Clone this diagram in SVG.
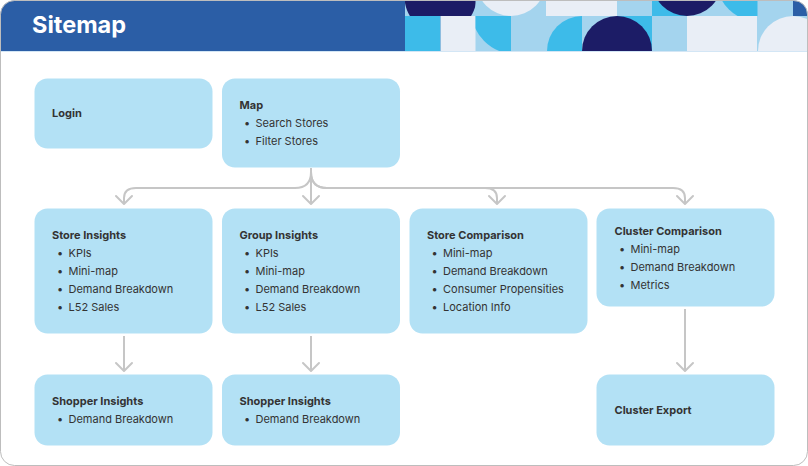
<svg xmlns="http://www.w3.org/2000/svg" width="808" height="466" viewBox="0 0 808 466">
<defs>
<clipPath id="card"><rect x="0.5" y="0.5" width="807" height="465" rx="14"/></clipPath>
<clipPath id="t01"><rect x="405" y="0" width="70.5" height="16"/></clipPath>
<clipPath id="t23"><rect x="475.5" y="0" width="70.5" height="16"/></clipPath>
<clipPath id="t78"><rect x="652" y="0" width="70.5" height="16"/></clipPath>
<clipPath id="t9"><rect x="722" y="0" width="35.5" height="16"/></clipPath>
<clipPath id="b2"><rect x="475.5" y="16" width="35.5" height="35"/></clipPath>
<clipPath id="b4"><rect x="546" y="16" width="36" height="35"/></clipPath>
<clipPath id="b56"><rect x="582" y="16" width="70" height="35"/></clipPath>
<clipPath id="b10"><rect x="757" y="16" width="51" height="35"/></clipPath>
<marker id="arr" markerUnits="userSpaceOnUse" markerWidth="20" markerHeight="20" refX="0" refY="0" viewBox="-10 -10 20 20" orient="auto" overflow="visible">
<path d="M-8,-8 L0,0 L-8,8" fill="none" stroke="#C6C6C6" stroke-width="2" stroke-linecap="round" stroke-linejoin="round"/>
</marker>
</defs>
<style>
.node{fill:#B3E1F5}
.t{font-family:Inter,"Open Sans","DejaVu Sans",sans-serif;font-size:11px;fill:#333}
.h{font-weight:700}
.c{fill:none;stroke:#C6C6C6;stroke-width:2;marker-end:url(#arr)}
.nv{fill:#1C1C66}.cy{fill:#3DBBE9}.lb{fill:#A4D4EE}.lg{fill:#E9EEF6}
</style>
<rect x="0.5" y="0.5" width="807" height="465" rx="14" fill="#fff"/>
<g id="header" clip-path="url(#card)">
<rect x="0" y="0" width="808" height="51" fill="#2B5EA6"/>
<rect x="0" y="51" width="808" height="1" fill="#D3E6F5"/>
<!-- top row -->
<rect class="lb" x="405" y="0" width="388" height="16"/>
<circle class="nv" cx="440.5" cy="-3" r="36" clip-path="url(#t01)"/>
<circle class="lg" cx="511" cy="-19" r="35" clip-path="url(#t23)"/>
<rect class="lg" x="546" y="0" width="71" height="16"/>
<rect class="cy" x="652" y="0" width="35" height="16"/>
<circle class="nv" cx="687" cy="-19" r="35" clip-path="url(#t78)"/>
<circle class="cy" cx="757" cy="-19" r="40" clip-path="url(#t9)"/>
<!-- bottom row -->
<rect class="cy" x="405" y="16" width="35.5" height="35"/>
<rect class="lg" x="440.5" y="16" width="35.5" height="35"/>
<rect class="lb" x="475.5" y="16" width="332.5" height="35"/>
<circle class="cy" cx="517" cy="8" r="46.5" clip-path="url(#b2)"/>
<circle class="cy" cx="582" cy="51" r="35" clip-path="url(#b4)"/>
<rect class="cy" x="617" y="16" width="35" height="35"/>
<circle class="nv" cx="617" cy="51" r="35" clip-path="url(#b56)"/>
<rect class="lg" x="687" y="16" width="70" height="35"/>
<circle class="lg" cx="793" cy="51" r="35" clip-path="url(#b10)"/>
<text x="32" y="33" font-family="Inter,'Open Sans',sans-serif" font-size="23.5" font-weight="700" fill="#fff">Sitemap</text>
</g>
<rect x="0.5" y="0.5" width="807" height="465" rx="14" fill="none" stroke="#BDBDBD"/>
<g id="connectors">
<path class="c" d="M311,168 V204"/>
<path class="c" d="M311,172 Q311,188 295,188 H136 Q124,188 124,198 V204"/>
<path class="c" d="M311,172 Q311,188 327,188 H485 Q497,188 497,198 V204"/>
<path class="c" d="M311,172 Q311,188 327,188 H673 Q685,188 685,198 V204"/>
<path class="c" d="M124,336 V371"/>
<path class="c" d="M311,336 V371"/>
<path class="c" d="M685,309 V371"/>
</g>
<g id="login">
<rect class="node" x="34.5" y="78.5" width="178" height="70" rx="13"/>
<text class="t h" x="52" y="117">Login</text>
</g>
<g id="map">
<rect class="node" x="222" y="78.5" width="178" height="89" rx="13"/>
<text class="t h" x="239.5" y="108.5">Map</text>
<text class="t" x="244" y="126.5">•</text><text class="t" x="255.5" y="126.5">Search Stores</text>
<text class="t" x="244" y="144.5">•</text><text class="t" x="255.5" y="144.5">Filter Stores</text>
</g>
<g id="store-insights">
<rect class="node" x="34.5" y="208.5" width="178" height="125" rx="13"/>
<text class="t h" x="52" y="239">Store Insights</text>
<text class="t" x="57" y="257">•</text><text class="t" x="68.5" y="257">KPIs</text>
<text class="t" x="57" y="275">•</text><text class="t" x="68.5" y="275">Mini-map</text>
<text class="t" x="57" y="293">•</text><text class="t" x="68.5" y="293">Demand Breakdown</text>
<text class="t" x="57" y="311">•</text><text class="t" x="68.5" y="311">L52 Sales</text>
</g>
<g id="group-insights">
<rect class="node" x="222" y="208.5" width="178" height="125" rx="13"/>
<text class="t h" x="239.5" y="239">Group Insights</text>
<text class="t" x="244" y="257">•</text><text class="t" x="255.5" y="257">KPIs</text>
<text class="t" x="244" y="275">•</text><text class="t" x="255.5" y="275">Mini-map</text>
<text class="t" x="244" y="293">•</text><text class="t" x="255.5" y="293">Demand Breakdown</text>
<text class="t" x="244" y="311">•</text><text class="t" x="255.5" y="311">L52 Sales</text>
</g>
<g id="store-comparison">
<rect class="node" x="409.5" y="208.5" width="178" height="125" rx="13"/>
<text class="t h" x="427" y="239">Store Comparison</text>
<text class="t" x="431.5" y="257">•</text><text class="t" x="443" y="257">Mini-map</text>
<text class="t" x="431.5" y="275">•</text><text class="t" x="443" y="275">Demand Breakdown</text>
<text class="t" x="431.5" y="293">•</text><text class="t" x="443" y="293">Consumer Propensities</text>
<text class="t" x="431.5" y="311">•</text><text class="t" x="443" y="311">Location Info</text>
</g>
<g id="cluster-comparison">
<rect class="node" x="596.5" y="208.5" width="178" height="98" rx="13"/>
<text class="t h" x="614.5" y="234.5">Cluster Comparison</text>
<text class="t" x="619" y="252.5">•</text><text class="t" x="630.5" y="252.5">Mini-map</text>
<text class="t" x="619" y="270.5">•</text><text class="t" x="630.5" y="270.5">Demand Breakdown</text>
<text class="t" x="619" y="288.5">•</text><text class="t" x="630.5" y="288.5">Metrics</text>
</g>
<g id="shopper-insights-1">
<rect class="node" x="34.5" y="374.5" width="178" height="71" rx="13"/>
<text class="t h" x="52" y="405">Shopper Insights</text>
<text class="t" x="57" y="423">•</text><text class="t" x="68.5" y="423">Demand Breakdown</text>
</g>
<g id="shopper-insights-2">
<rect class="node" x="222" y="374.5" width="178" height="71" rx="13"/>
<text class="t h" x="239.5" y="405">Shopper Insights</text>
<text class="t" x="244" y="423">•</text><text class="t" x="255.5" y="423">Demand Breakdown</text>
</g>
<g id="cluster-export">
<rect class="node" x="596.5" y="374.5" width="178" height="71" rx="13"/>
<text class="t h" x="614.5" y="414">Cluster Export</text>
</g>
</svg>
